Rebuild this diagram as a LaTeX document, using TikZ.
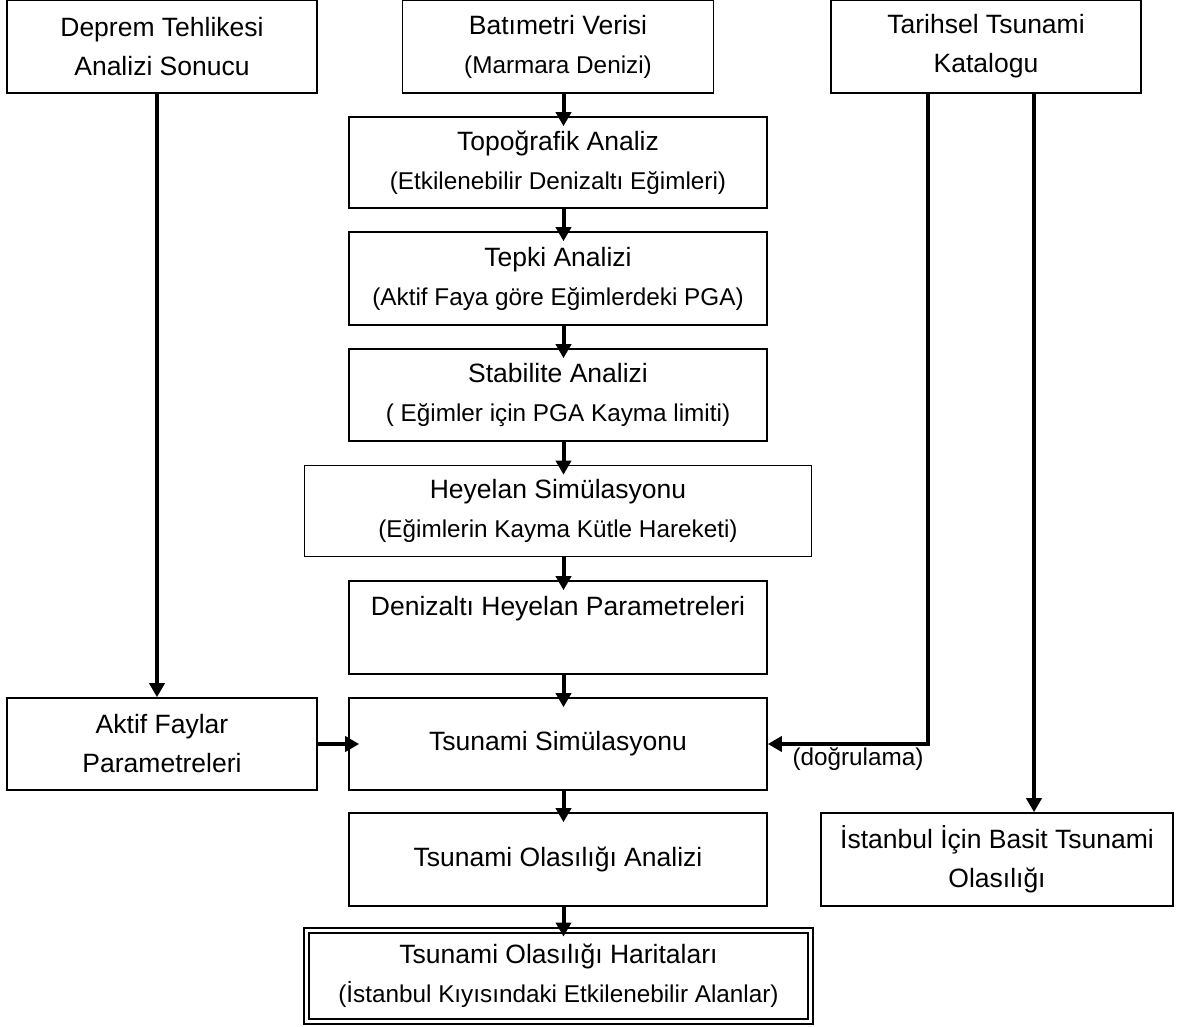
\documentclass[tikz,border=0pt]{standalone}
\usepackage{fontspec}
\setmainfont{Liberation Sans}
\usetikzlibrary{arrows.meta}
\newcommand\tfont{\fontsize{26.5}{39}\selectfont}
\newcommand\sfont{\fontsize{24.3}{39}\selectfont}
\begin{document}
\begin{tikzpicture}[x=1pt,y=-1pt,
  box/.style={draw, line width=1.6pt, inner sep=0pt, align=center, font=\tfont},
  arr/.style={line width=4pt, -{Triangle[width=15pt,length=14pt]}},
  into/.style={shorten >=-10pt}
]
\fill[white] (0,0) rectangle (1182,1026);
\useasboundingbox (0,0) rectangle (1182,1026);

\node[box, minimum width=310pt, minimum height=93pt] (dep) at (162,46.5) {Deprem Tehlikesi\\Analizi Sonucu};
\node[box, minimum width=311pt, minimum height=93pt] (bat) at (558,46.5) {Batımetri Verisi\\{\sfont (Marmara Denizi)}};
\node[box, minimum width=310pt, minimum height=93pt] (tar) at (986,46.5) {Tarihsel Tsunami\\Katalogu};

\node[box, minimum width=418pt, minimum height=91pt] (topo) at (558,162.5) {Topoğrafik Analiz\\{\sfont (Etkilenebilir Denizaltı Eğimleri)}};
\node[box, minimum width=418pt, minimum height=93pt] (tepki) at (558,278.5) {Tepki Analizi\\{\sfont (Aktif Faya göre Eğimlerdeki PGA)}};
\node[box, minimum width=418pt, minimum height=92pt] (stab) at (558,395) {Stabilite Analizi\\{\sfont ( Eğimler için PGA Kayma limiti)}};
\node[box, minimum width=507pt, minimum height=91pt] (hey) at (558,511) {Heyelan Simülasyonu\\{\sfont (Eğimlerin Kayma Kütle Hareketi)}};
\node[box, minimum width=418pt, minimum height=93pt] (den) at (558,627.5) {Denizaltı Heyelan Parametreleri\\{\sfont\phantom{(X)}}};

\node[box, minimum width=310pt, minimum height=92pt] (akt) at (162,744) {Aktif Faylar\\Parametreleri};
\node[box, minimum width=418pt, minimum height=92pt] (tsim) at (558,744) {Tsunami Simülasyonu};
\node[box, minimum width=418pt, minimum height=93pt] (olas) at (558,859.5) {Tsunami Olasılığı Analizi};
\node[box, minimum width=352pt, minimum height=93pt] (ist) at (997,859.5) {İstanbul İçin Basit Tsunami\\Olasılığı};
\node[box, double, line width=2.2pt, double distance=3pt, minimum width=503.6pt, minimum height=90.6pt] (har) at (558.5,976) {Tsunami Olasılığı Haritaları\\{\sfont (İstanbul Kıyısındaki Etkilenebilir Alanlar)}};

\node[font=\sfont, inner sep=0pt] (dog) at (858,759) {(doğrulama)};

% central column
\draw[arr, into] ([xshift=5.5pt]bat.south) -- ([xshift=5.5pt]topo.north);
\draw[arr, into] ([xshift=5.5pt]topo.south) -- ([xshift=5.5pt]tepki.north);
\draw[arr, into] ([xshift=5.5pt]tepki.south) -- ([xshift=5.5pt]stab.north);
\draw[arr, into] ([xshift=5.5pt]stab.south) -- ([xshift=5.5pt]hey.north);
\draw[arr, into] ([xshift=5.5pt]hey.south) -- ([xshift=5.5pt]den.north);
\draw[arr, into] ([xshift=5.5pt]den.south) -- ([xshift=5.5pt]tsim.north);
\draw[arr, into] ([xshift=5.5pt]tsim.south) -- ([xshift=5.5pt]olas.north);
\draw[arr, shorten >=-7pt] ([xshift=5.5pt]olas.south) -- ([xshift=5pt]har.north);

% left side
\coordinate (d1) at ([xshift=-5pt]dep.south);
\draw[arr] (d1) -- (d1 |- akt.north);
\draw[arr, shorten >=-11pt] (akt.east) -- (tsim.west);

% right side
\coordinate (k1) at ([xshift=-58pt]tar.south);
\draw[arr] (k1) |- (tsim.east);
\coordinate (k2) at ([xshift=48pt]tar.south);
\draw[arr] (k2) -- (k2 |- ist.north);
\end{tikzpicture}
\end{document}
